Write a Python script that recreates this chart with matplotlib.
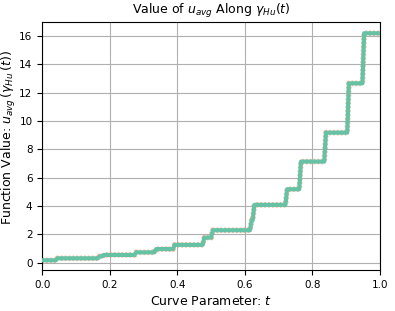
import matplotlib
matplotlib.use("Agg")
import matplotlib.pyplot as plt

# each plateau of u_avg along the curve: start t, end t, value
t_start = [0.0, 0.045, 0.170, 0.183, 0.278, 0.337, 0.392, 0.480, 0.505,
           0.620, 0.628, 0.725, 0.766, 0.840, 0.908, 0.953]
t_end = [0.040, 0.165, 0.178, 0.273, 0.332, 0.387, 0.475, 0.500, 0.615,
         0.623, 0.720, 0.761, 0.835, 0.903, 0.948, 1.0]
u_avg = [0.18, 0.32, 0.46, 0.56, 0.74, 0.97, 1.27, 1.78, 2.3,
         3.0, 4.09, 5.19, 7.14, 9.18, 12.66, 16.19]

t_pts, u_pts = [], []
for a, b, v in zip(t_start, t_end, u_avg):
    t_pts += [a, b]
    u_pts += [v, v]

fig, ax = plt.subplots(figsize=(3.95, 3.11), dpi=100)
ax.plot(t_pts, u_pts, color="#fc8d62", linestyle=(0, (0.3, 0.4)),
        linewidth=4.0, alpha=0.7, zorder=2)
ax.plot(t_pts, u_pts, color="#66c2a5", linewidth=3.0, zorder=3)

ax.set_xlim(0, 1)
ax.set_ylim(-0.5, 17)
ax.set_yticks([0, 2, 4, 6, 8, 10, 12, 14, 16])
ax.grid(True, color="#b0b0b0", linewidth=0.8)
ax.set_axisbelow(True)
ax.tick_params(labelsize=7.5)
ax.set_title(r"Value of $u_{avg}$ Along $\gamma_{Hu}(t)$", fontsize=9)
ax.set_xlabel(r"Curve Parameter: $t$", fontsize=9)
ax.set_ylabel(r"Function Value: $u_{avg}\,(\gamma_{Hu}\,(t))$", fontsize=9)
ax.yaxis.set_label_coords(-0.072, 0.535)

plt.subplots_adjust(left=0.107, right=0.962, top=0.93, bottom=0.132)
plt.savefig("out.png", dpi=100)
